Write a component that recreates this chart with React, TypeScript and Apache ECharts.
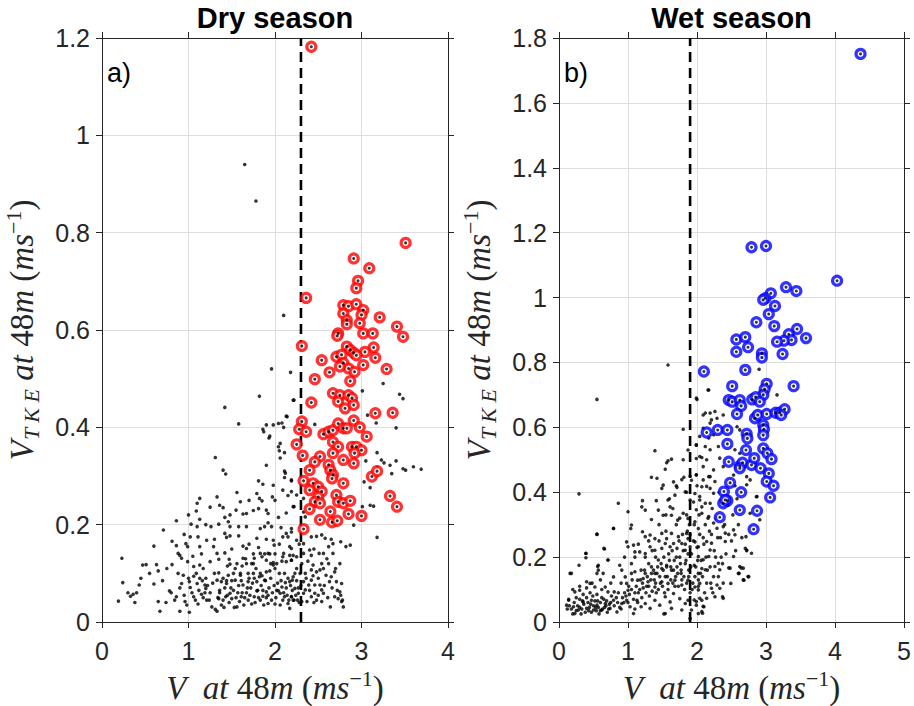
import React, { useEffect, useRef } from "react";
import * as echarts from "echarts";

// Wind speed at 48 m (m/s) vs. TKE velocity scale at 48 m (m/s)
const dryThreshold = 2.3;
const wetThreshold = 1.9;

const dryXTicks = { min: 0, max: 4, interval: 1 };
const dryYTicks = { min: 0, max: 1.2, interval: 0.2 };
const wetXTicks = { min: 0, max: 5, interval: 1 };
const wetYTicks = { min: 0, max: 1.8, interval: 0.2 };

const panelTitles = ["Dry season", "Wet season"];
const panelTags = ["a)", "b)"];

// Dry season: all samples
const dryDots: number[][] = [
  [1.65, 0.94], [1.78, 0.865], [2.1, 0.63], [1.96, 0.52], [2.18, 0.513], [1.82, 0.464], [2.22, 0.456],
  [2.14, 0.422], [2.04, 0.408], [1.42, 0.441], [1.58, 0.407], [1.86, 0.396], [1.9, 0.405], [1.98, 0.405],
  [1.94, 0.382], [2.08, 0.409], [2.13, 0.423], [2.06, 0.367], [2.05, 0.352], [2.11, 0.348], [1.9, 0.322],
  [2.11, 0.31], [2.11, 0.297], [2.19, 0.29], [1.98, 0.281], [2.09, 0.271], [2.19, 0.268], [1.97, 0.257],
  [2.21, 0.237], [2.13, 0.224], [1.31, 0.338], [1.4, 0.312], [1.43, 0.304], [1.81, 0.29], [1.86, 0.283],
  [1.79, 0.264], [1.82, 0.254], [1.85, 0.249], [1.56, 0.266], [1.6, 0.247], [1.13, 0.254], [1.1, 0.244],
  [1.09, 0.228], [1.13, 0.211], [1.25, 0.236], [1.33, 0.257], [1.36, 0.24], [1.4, 0.235], [1.48, 0.22],
  [1.42, 0.215], [1.67, 0.223], [1.63, 0.222], [1.75, 0.229], [1.9, 0.23], [1.92, 0.223], [1.81, 0.233],
  [2.04, 0.36], [2.06, 0.337], [1.93, 0.378], [1.87, 0.391], [2.1, 0.4], [2.12, 0.306],
  [0.86, 0.208], [1.03, 0.201], [1.1, 0.196], [1.26, 0.196], [1.35, 0.201], [1.46, 0.206], [1.48, 0.196],
  [1.58, 0.196], [1.67, 0.196], [1.83, 0.192], [1.88, 0.196], [1.92, 0.204], [1.96, 0.196], [2.04, 0.215],
  [2.07, 0.194], [2.13, 0.182], [2.19, 0.192], [2.15, 0.175], [0.71, 0.189], [0.6, 0.156], [0.81, 0.166],
  [0.86, 0.157], [0.97, 0.161], [0.99, 0.155], [1.02, 0.175], [1.11, 0.175], [1.13, 0.155], [1.21, 0.168],
  [1.29, 0.155], [1.33, 0.141], [1.42, 0.182], [1.44, 0.174], [1.48, 0.177], [1.58, 0.177], [1.63, 0.156],
  [1.67, 0.151], [1.79, 0.172], [1.81, 0.153], [1.83, 0.141], [1.92, 0.141], [1.98, 0.168], [1.99, 0.158],
  [2.09, 0.175], [2.1, 0.141], [2.17, 0.155], [2.21, 0.137], [0.23, 0.131], [0.47, 0.117], [0.51, 0.118],
  [0.63, 0.118], [0.65, 0.105], [0.75, 0.11], [0.81, 0.118], [0.9, 0.137], [0.92, 0.131], [0.88, 0.141],
  [0.99, 0.124], [1.05, 0.135], [1.06, 0.114], [1.13, 0.117], [1.17, 0.11], [1.25, 0.124], [1.35, 0.129],
  [1.42, 0.142], [1.47, 0.129], [1.48, 0.119], [1.54, 0.11], [1.63, 0.131], [1.67, 0.12], [1.75, 0.12],
  [1.76, 0.131], [1.85, 0.134], [1.9, 0.127], [1.94, 0.14], [1.95, 0.12], [1.98, 0.117], [2.02, 0.12],
  [2.09, 0.134], [2.13, 0.124], [2.19, 0.127], [2.25, 0.134], [0.24, 0.081], [0.43, 0.076], [0.6, 0.078],
  [0.78, 0.064], [0.92, 0.079], [0.94, 0.096], [1.01, 0.083], [1.02, 0.071], [1.06, 0.094], [1.1, 0.079],
  [1.13, 0.09], [1.19, 0.076], [1.2, 0.069], [1.33, 0.086], [1.35, 0.101], [1.38, 0.083], [1.44, 0.079],
  [1.46, 0.096], [1.52, 0.1], [1.54, 0.086], [1.6, 0.096], [1.63, 0.076], [1.69, 0.083], [1.75, 0.1],
  [1.79, 0.083], [1.82, 0.093], [1.88, 0.086], [1.9, 0.103], [1.98, 0.122], [2.08, 0.072], [2.12, 0.081],
  [2.17, 0.083], [2.21, 0.093], [2.29, 0.1], [0.19, 0.043], [0.33, 0.053], [0.36, 0.057], [0.4, 0.06],
  [0.38, 0.04], [0.65, 0.042], [0.67, 0.022], [0.74, 0.04], [0.86, 0.052], [0.9, 0.022], [0.96, 0.042],
  [0.98, 0.035], [1.01, 0.02], [1.06, 0.052], [1.11, 0.037], [1.15, 0.057], [1.19, 0.06], [1.21, 0.045],
  [1.27, 0.031], [1.31, 0.026], [1.33, 0.022], [1.35, 0.048], [1.36, 0.06], [1.4, 0.045], [1.43, 0.052],
  [1.48, 0.059], [1.5, 0.048], [1.56, 0.031], [1.59, 0.042], [1.61, 0.052], [1.67, 0.06], [1.69, 0.045],
  [1.73, 0.037], [1.76, 0.052], [1.79, 0.064], [1.83, 0.045], [1.86, 0.053], [1.9, 0.062], [1.92, 0.038],
  [1.96, 0.045], [2.0, 0.037], [2.04, 0.064], [2.06, 0.059], [2.09, 0.045], [2.11, 0.052], [2.15, 0.038],
  [2.17, 0.028], [2.19, 0.052], [2.22, 0.045], [1.34, 0.05], [1.38, 0.035], [1.42, 0.07], [1.45, 0.055],
  [1.47, 0.04], [1.52, 0.065], [1.55, 0.05], [1.58, 0.075], [1.62, 0.06], [1.64, 0.035], [1.68, 0.07],
  [1.71, 0.055], [1.74, 0.08], [1.77, 0.04], [1.8, 0.065], [1.84, 0.075], [1.87, 0.035], [1.9, 0.05],
  [1.93, 0.07], [1.97, 0.06], [2.01, 0.05], [2.03, 0.08], [2.06, 0.035], [2.1, 0.06], [2.13, 0.07],
  [2.16, 0.045], [2.2, 0.065], [2.24, 0.055], [2.27, 0.07], [2.28, 0.04], [1.25, 0.06], [1.22, 0.075],
  [1.17, 0.05], [1.12, 0.065], [1.08, 0.045], [1.04, 0.06], [0.95, 0.055], [0.9, 0.07], [0.84, 0.045],
  [0.8, 0.06], [1.4, 0.09], [1.5, 0.085], [1.6, 0.1], [1.7, 0.09], [1.78, 0.11], [1.85, 0.095],
  [1.95, 0.09], [2.05, 0.1], [2.15, 0.09], [2.25, 0.085], [1.3, 0.1], [1.2, 0.09], [1.56, 0.12],
  [1.66, 0.13], [1.73, 0.12], [1.88, 0.14], [2.0, 0.11], [2.08, 0.125], [1.45, 0.115], [1.62, 0.115],
  [2.21, 0.456], [3.25, 0.49], [3.44, 0.468], [3.48, 0.459], [3.01, 0.475], [3.07, 0.425], [3.17, 0.409],
  [3.4, 0.399], [2.46, 0.406], [2.19, 0.292], [2.25, 0.261], [2.22, 0.237], [2.33, 0.254], [2.33, 0.226],
  [2.35, 0.216], [3.18, 0.348], [3.23, 0.333], [3.33, 0.322], [3.4, 0.331], [3.48, 0.315], [3.51, 0.312],
  [3.35, 0.305], [3.26, 0.327], [3.18, 0.318], [3.05, 0.331], [3.1, 0.276], [3.03, 0.288], [3.1, 0.24],
  [3.14, 0.238], [3.01, 0.237], [3.18, 0.174], [3.6, 0.319], [3.69, 0.314], [2.91, 0.199],
  [2.19, 0.185], [2.25, 0.168], [2.19, 0.151], [2.17, 0.137], [2.19, 0.127], [2.25, 0.11], [2.2, 0.086],
  [2.23, 0.069], [2.27, 0.059], [2.19, 0.052], [2.21, 0.045], [2.33, 0.161], [2.33, 0.141], [2.31, 0.12],
  [2.35, 0.1], [2.33, 0.083], [2.33, 0.059], [2.37, 0.042], [2.31, 0.042], [2.35, 0.066], [2.42, 0.175],
  [2.48, 0.176], [2.54, 0.179], [2.58, 0.172], [2.62, 0.155], [2.67, 0.161], [2.76, 0.165], [2.82, 0.155],
  [2.87, 0.158], [2.4, 0.148], [2.42, 0.137], [2.51, 0.141], [2.56, 0.141], [2.67, 0.141], [2.62, 0.12],
  [2.54, 0.12], [2.44, 0.117], [2.42, 0.107], [2.48, 0.103], [2.52, 0.107], [2.56, 0.11], [2.69, 0.103],
  [2.59, 0.096], [2.65, 0.093], [2.63, 0.083], [2.71, 0.083], [2.77, 0.079], [2.42, 0.086], [2.39, 0.076],
  [2.46, 0.076], [2.52, 0.076], [2.54, 0.066], [2.46, 0.059], [2.42, 0.052], [2.56, 0.059], [2.69, 0.052],
  [2.75, 0.062], [2.77, 0.042], [2.73, 0.048], [2.79, 0.031], [2.64, 0.031], [2.54, 0.042], [2.48, 0.045],
  [1.36, 0.065], [1.41, 0.03], [1.44, 0.085], [1.49, 0.07], [1.53, 0.03], [1.57, 0.06], [1.61, 0.085],
  [1.65, 0.05], [1.69, 0.1], [1.72, 0.07], [1.76, 0.09], [1.81, 0.05], [1.83, 0.1], [1.86, 0.065],
  [1.89, 0.085], [1.92, 0.055], [1.94, 0.105], [1.99, 0.075], [2.02, 0.065], [2.07, 0.085], [2.11, 0.1],
  [2.14, 0.055], [2.18, 0.075], [2.23, 0.1], [2.26, 0.045], [2.3, 0.075], [2.36, 0.09], [2.4, 0.065],
  [2.44, 0.095], [2.5, 0.055], [2.57, 0.075], [2.61, 0.05], [2.66, 0.07], [2.72, 0.065], [2.76, 0.055],
  [2.78, 0.045], [1.28, 0.08], [1.24, 0.045], [1.16, 0.085], [1.09, 0.1], [1.0, 0.09], [0.88, 0.1],
  [0.7, 0.085], [0.55, 0.1], [0.45, 0.09], [0.3, 0.06], [1.15, 0.14], [1.3, 0.17], [1.5, 0.15],
  [1.7, 0.16], [1.9, 0.17], [2.05, 0.16], [1.2, 0.2], [1.55, 0.23], [1.7, 0.25], [2.0, 0.25],
  [2.15, 0.26], [1.0, 0.22], [0.95, 0.18], [1.75, 0.14], [2.0, 0.14], [2.28, 0.16], [2.45, 0.15],
  [2.6, 0.13], [2.7, 0.11], [2.5, 0.09], [2.65, 0.17], [2.75, 0.12], [2.38, 0.125], [2.45, 0.04],
];

// Dry season: highlighted samples
const dryCircles: number[][] = [
  [2.42, 1.182], [3.51, 0.779], [2.91, 0.747], [3.09, 0.727], [2.96, 0.701], [2.94, 0.686], [2.36, 0.666],
  [2.79, 0.651], [2.85, 0.649], [2.94, 0.653], [3.02, 0.641], [3.0, 0.631], [3.21, 0.626], [3.41, 0.607],
  [3.48, 0.586], [2.79, 0.634], [2.83, 0.62], [2.83, 0.612], [2.73, 0.593], [2.72, 0.588], [2.98, 0.614],
  [3.02, 0.593], [3.13, 0.593], [2.31, 0.567], [3.14, 0.564], [3.04, 0.555], [2.83, 0.566], [2.87, 0.559],
  [2.91, 0.553], [2.71, 0.545], [2.54, 0.538], [2.94, 0.548], [3.16, 0.543], [2.77, 0.549], [2.79, 0.532],
  [2.85, 0.521], [2.75, 0.525], [3.02, 0.528], [2.92, 0.514], [3.29, 0.52], [2.63, 0.513], [2.46, 0.499],
  [2.87, 0.495], [2.42, 0.451], [2.67, 0.47], [2.75, 0.466], [2.85, 0.466], [2.89, 0.46], [2.73, 0.453],
  [2.81, 0.439], [2.91, 0.446], [3.16, 0.429], [3.36, 0.43], [2.31, 0.412], [2.28, 0.396], [2.36, 0.391],
  [2.25, 0.365], [2.32, 0.342], [2.56, 0.386], [2.62, 0.391], [2.67, 0.394], [2.73, 0.408], [2.79, 0.398],
  [2.83, 0.398], [2.91, 0.414], [2.98, 0.4], [3.06, 0.381], [2.67, 0.37], [2.73, 0.36], [2.67, 0.347],
  [2.89, 0.36], [2.94, 0.36], [3.0, 0.353], [2.92, 0.347], [2.79, 0.333], [2.91, 0.326], [2.52, 0.34],
  [2.46, 0.329], [2.4, 0.312], [2.62, 0.323], [2.64, 0.312], [2.67, 0.302], [2.66, 0.295], [2.79, 0.285],
  [2.33, 0.29], [2.44, 0.285], [2.5, 0.278], [2.54, 0.268], [2.4, 0.271], [2.5, 0.257], [2.46, 0.247],
  [2.52, 0.244], [2.71, 0.261], [2.73, 0.247], [2.79, 0.244], [2.87, 0.249], [3.12, 0.299], [3.18, 0.31],
  [3.33, 0.259], [3.41, 0.237], [2.4, 0.232], [2.64, 0.227], [2.85, 0.222], [3.0, 0.218], [2.52, 0.21],
  [2.66, 0.205], [2.72, 0.208], [2.33, 0.191],
];

// Wet season: all samples
const wetDots: number[][] = [
  [1.58, 0.792], [0.55, 0.686], [2.16, 0.715], [2.0, 0.686], [2.9, 0.779], [3.16, 0.7], [2.86, 0.386],
  [0.29, 0.395], [0.86, 0.366], [1.0, 0.34], [1.39, 0.528], [1.63, 0.502], [1.58, 0.497], [1.81, 0.446],
  [2.09, 0.638], [1.8, 0.594], [1.87, 0.53], [1.99, 0.545], [2.07, 0.507], [1.99, 0.504], [1.56, 0.491],
  [1.54, 0.471], [1.34, 0.446], [1.42, 0.443], [1.92, 0.437], [1.78, 0.439], [1.66, 0.432], [1.71, 0.415],
  [1.51, 0.422], [1.49, 0.412], [1.21, 0.374], [1.2, 0.355], [1.41, 0.374], [1.58, 0.376], [1.61, 0.355],
  [1.68, 0.391], [1.83, 0.401], [1.9, 0.376], [1.97, 0.396], [2.04, 0.376], [2.07, 0.355], [1.25, 0.345],
  [1.34, 0.316], [1.44, 0.345], [1.51, 0.329], [1.63, 0.329], [1.72, 0.314], [1.8, 0.335], [1.87, 0.319],
  [1.97, 0.309], [2.02, 0.288], [1.05, 0.299], [1.04, 0.288], [0.79, 0.288], [0.55, 0.27], [0.66, 0.225],
  [0.39, 0.211], [0.39, 0.198], [0.71, 0.191], [0.98, 0.247], [1.0, 0.232], [1.08, 0.237], [1.21, 0.278],
  [1.25, 0.263], [1.32, 0.268], [1.39, 0.257], [1.49, 0.273], [1.56, 0.257], [1.63, 0.273], [1.73, 0.263],
  [1.78, 0.242], [1.85, 0.273], [1.87, 0.257], [1.97, 0.247], [2.02, 0.232], [1.1, 0.216], [1.17, 0.216],
  [1.25, 0.211], [1.32, 0.232], [1.39, 0.221], [1.49, 0.227], [1.54, 0.242], [1.61, 0.232], [1.66, 0.242],
  [1.71, 0.227], [1.83, 0.221], [1.9, 0.232], [0.16, 0.15], [0.29, 0.175], [0.57, 0.175], [0.57, 0.16],
  [0.55, 0.15], [0.64, 0.15], [0.79, 0.139], [0.88, 0.175], [0.91, 0.16], [0.96, 0.139], [1.05, 0.18],
  [1.1, 0.155], [1.19, 0.16], [1.25, 0.15], [1.3, 0.18], [1.34, 0.17], [1.39, 0.15], [1.44, 0.191],
  [1.49, 0.165], [1.56, 0.175], [1.63, 0.16], [1.71, 0.17], [1.77, 0.15], [1.83, 0.18], [1.88, 0.16],
  [1.96, 0.175], [2.02, 0.15], [2.07, 0.165], [0.4, 0.124], [0.45, 0.119], [0.3, 0.098], [0.23, 0.093],
  [0.52, 0.108], [0.67, 0.108], [0.71, 0.093], [0.8, 0.093], [0.98, 0.119], [1.0, 0.098], [1.14, 0.129],
  [1.22, 0.134], [1.29, 0.124], [1.39, 0.108], [1.49, 0.124], [1.58, 0.119], [1.68, 0.129], [1.78, 0.114],
  [1.87, 0.129], [1.97, 0.108], [2.04, 0.119], [0.14, 0.067], [0.11, 0.052], [0.21, 0.047], [0.28, 0.037],
  [0.23, 0.026], [0.35, 0.062], [0.4, 0.042], [0.47, 0.067], [0.5, 0.037], [0.55, 0.052], [0.62, 0.037],
  [0.67, 0.057], [0.74, 0.042], [0.79, 0.067], [0.84, 0.031], [0.91, 0.057], [0.98, 0.067], [1.03, 0.047],
  [1.08, 0.026], [1.13, 0.067], [1.19, 0.047], [1.25, 0.057], [1.32, 0.042], [1.39, 0.067], [1.46, 0.052],
  [1.54, 0.078], [1.61, 0.062], [1.66, 0.088], [1.75, 0.072], [1.83, 0.057], [1.87, 0.067], [1.92, 0.037],
  [1.99, 0.052], [2.07, 0.067], [1.63, 0.042], [1.54, 0.026], [1.78, 0.037], [2.02, 0.026], [1.9, 0.011],
  [0.15, 0.05], [0.18, 0.04], [0.22, 0.06], [0.25, 0.035], [0.27, 0.05], [0.3, 0.07], [0.33, 0.04],
  [0.36, 0.055], [0.38, 0.03], [0.42, 0.06], [0.44, 0.045], [0.47, 0.03], [0.5, 0.05], [0.52, 0.065],
  [0.54, 0.035], [0.57, 0.045], [0.6, 0.06], [0.58, 0.025], [0.63, 0.04], [0.65, 0.07], [0.68, 0.05],
  [0.7, 0.03], [0.73, 0.055], [0.76, 0.08], [0.45, 0.09], [0.35, 0.085], [0.25, 0.075], [0.55, 0.085],
  [0.62, 0.1], [0.3, 0.11], [0.2, 0.1], [0.48, 0.12], [0.4, 0.105], [0.14, 0.07], [0.12, 0.04],
  [0.2, 0.025], [0.85, 0.06], [0.88, 0.045], [0.92, 0.075], [0.95, 0.09], [1.0, 0.06], [1.02, 0.085],
  [1.05, 0.1], [1.08, 0.07], [1.1, 0.04], [1.12, 0.11], [1.15, 0.09], [1.18, 0.13], [1.2, 0.075],
  [1.22, 0.105], [1.26, 0.09], [1.28, 0.14], [1.3, 0.11], [1.33, 0.13], [1.35, 0.095], [1.37, 0.16],
  [1.4, 0.12], [1.42, 0.15], [1.44, 0.1], [1.46, 0.14], [1.48, 0.18], [1.5, 0.11], [1.52, 0.2],
  [1.54, 0.14], [1.56, 0.17], [1.58, 0.1], [1.6, 0.19], [1.62, 0.13], [1.64, 0.22], [1.66, 0.16],
  [1.68, 0.11], [1.7, 0.2], [1.72, 0.15], [1.74, 0.25], [1.76, 0.18], [1.78, 0.13], [1.8, 0.22],
  [1.82, 0.1], [1.84, 0.19], [1.86, 0.28], [1.88, 0.14], [1.9, 0.09], [1.92, 0.21], [1.94, 0.12],
  [1.96, 0.3], [1.98, 0.17], [2.0, 0.23], [2.02, 0.11], [2.04, 0.27], [2.06, 0.19], [2.08, 0.14],
  [2.1, 0.24], [2.12, 0.3], [2.15, 0.16], [2.18, 0.28], [2.2, 0.12], [2.22, 0.35], [2.25, 0.22],
  [2.28, 0.32], [2.3, 0.26], [2.32, 0.4], [2.35, 0.2], [2.4, 0.3], [2.45, 0.36], [2.5, 0.25],
  [2.55, 0.42], [2.6, 0.3], [1.25, 0.2], [1.3, 0.25], [1.35, 0.22], [1.45, 0.3], [1.55, 0.28],
  [1.65, 0.35], [1.75, 0.32], [1.85, 0.4], [1.95, 0.37], [2.0, 0.42], [1.9, 0.45], [1.8, 0.5],
  [1.7, 0.42], [1.6, 0.38], [1.99, 0.454], [2.09, 0.438], [2.19, 0.448], [2.14, 0.418], [2.24, 0.397],
  [2.04, 0.387], [2.12, 0.366], [2.19, 0.366], [1.99, 0.346], [2.07, 0.335], [2.17, 0.325], [2.24, 0.305],
  [2.29, 0.289], [2.38, 0.294], [2.41, 0.274], [2.53, 0.284], [2.55, 0.269], [2.72, 0.222], [2.79, 0.212],
  [2.41, 0.248], [2.21, 0.243], [2.14, 0.248], [2.19, 0.222], [2.09, 0.192], [2.02, 0.202], [2.17, 0.202],
  [2.26, 0.171], [2.33, 0.161], [2.31, 0.181], [2.48, 0.166], [2.62, 0.171], [2.67, 0.166], [2.6, 0.15],
  [2.74, 0.14], [2.67, 0.13], [2.12, 0.161], [2.02, 0.13], [2.14, 0.12], [2.24, 0.14], [2.38, 0.12],
  [2.33, 0.104], [2.21, 0.104], [2.02, 0.099], [2.14, 0.073], [2.04, 0.073], [2.38, 0.073], [2.26, 0.078],
  [2.09, 0.048], [1.99, 0.063], [2.07, 0.032], [2.48, 0.428], [2.77, 0.438], [2.87, 0.387], [2.91, 0.315],
  [2.77, 0.335], [2.53, 0.202], [2.7, 0.227], [2.17, 0.715], [1.99, 0.69], [2.12, 0.644], [2.19, 0.644],
  [2.26, 0.649], [2.38, 0.638], [2.21, 0.623], [2.29, 0.628], [2.19, 0.613], [2.09, 0.597], [2.58, 0.602],
  [2.62, 0.592], [2.04, 0.572], [2.17, 0.567], [2.24, 0.577], [1.99, 0.546], [2.12, 0.541], [2.19, 0.531],
  [2.31, 0.541], [2.55, 0.531], [2.62, 0.52], [2.04, 0.51], [2.14, 0.5], [2.33, 0.505], [2.09, 0.479],
  [2.24, 0.469], [2.38, 0.479], [1.99, 0.453], [2.17, 0.448], [2.26, 0.433], [2.53, 0.453], [2.72, 0.448],
  [2.07, 0.417], [2.19, 0.412], [2.72, 0.423], [2.91, 0.644], [2.87, 0.633], [2.71, 0.263], [2.72, 0.22],
  [2.75, 0.14], [2.68, 0.129], [2.64, 0.167], [2.61, 0.15], [2.46, 0.167], [2.49, 0.119], [2.37, 0.078],
  [2.29, 0.114], [2.1, 0.047], [2.08, 0.027], [1.52, 0.025], [1.96, 0.068], [0.18, 0.15], [0.39, 0.212],
  [0.56, 0.171], [0.65, 0.227], [0.55, 0.271], [0.79, 0.289], [0.71, 0.191],
  [0.3, 0.045], [0.32, 0.025], [0.34, 0.065], [0.4, 0.075], [0.43, 0.035], [0.46, 0.055], [0.49, 0.08],
  [0.53, 0.045], [0.56, 0.065], [0.6, 0.035], [0.62, 0.075], [0.66, 0.045], [0.69, 0.065], [0.72, 0.04],
  [0.75, 0.06], [0.8, 0.05], [0.83, 0.075], [0.86, 0.09], [0.9, 0.04], [0.94, 0.06], [0.97, 0.08],
  [1.01, 0.11], [1.06, 0.13], [1.1, 0.09], [1.14, 0.06], [1.17, 0.1], [1.21, 0.12], [1.24, 0.16],
  [1.27, 0.11], [1.31, 0.08], [1.34, 0.15], [1.38, 0.13], [1.41, 0.09], [1.43, 0.17], [1.47, 0.12],
  [1.51, 0.16], [1.53, 0.09], [1.57, 0.14], [1.59, 0.21], [1.62, 0.17], [1.65, 0.12], [1.67, 0.19],
  [1.69, 0.14], [1.73, 0.11], [1.75, 0.2], [1.77, 0.16], [1.79, 0.27], [1.81, 0.14], [1.83, 0.24],
  [1.85, 0.12], [1.87, 0.21], [1.89, 0.3], [1.91, 0.17], [1.93, 0.1], [1.95, 0.25], [1.97, 0.14],
  [2.01, 0.19], [2.03, 0.33], [2.05, 0.15], [2.09, 0.26], [2.11, 0.09], [2.13, 0.2], [2.16, 0.32],
  [2.19, 0.17], [2.21, 0.27], [2.23, 0.09], [2.27, 0.2], [2.31, 0.14], [2.34, 0.26], [2.37, 0.18],
  [2.42, 0.21], [2.46, 0.27], [2.52, 0.33], [2.56, 0.22], [2.58, 0.38], [2.65, 0.26], [1.1, 0.2],
  [1.15, 0.24], [1.4, 0.2], [1.45, 0.25], [1.55, 0.33], [1.7, 0.3], [1.85, 0.33], [1.9, 0.27],
  [0.9, 0.12], [0.75, 0.12], [0.6, 0.13], [0.95, 0.2], [1.05, 0.15],
];

// Wet season: highlighted samples
const wetCircles: number[][] = [
  [4.37, 1.751], [2.79, 1.155], [3.0, 1.159], [4.03, 1.052], [3.29, 1.032], [3.44, 1.02], [3.07, 1.013],
  [2.99, 0.998], [2.96, 0.993], [3.13, 0.974], [3.04, 0.949], [2.86, 0.924], [3.12, 0.912], [3.45, 0.903],
  [3.58, 0.875], [3.33, 0.887], [3.37, 0.869], [3.26, 0.867], [3.16, 0.864], [2.57, 0.871], [2.7, 0.878],
  [2.74, 0.847], [2.57, 0.833], [2.94, 0.828], [2.94, 0.815], [3.24, 0.826], [2.1, 0.772], [2.7, 0.777],
  [2.51, 0.727], [3.4, 0.727], [3.01, 0.734], [2.98, 0.717], [2.96, 0.7], [2.46, 0.684], [2.51, 0.679],
  [2.62, 0.684], [2.64, 0.666], [2.8, 0.686], [2.85, 0.693], [2.91, 0.679], [2.58, 0.641], [2.84, 0.628],
  [2.88, 0.638], [3.01, 0.641], [3.14, 0.645], [3.2, 0.645], [3.27, 0.656], [3.22, 0.638], [2.14, 0.584],
  [2.3, 0.592], [2.44, 0.592], [2.96, 0.607], [2.97, 0.594], [2.96, 0.576], [2.72, 0.58], [2.73, 0.566],
  [2.44, 0.549], [2.71, 0.53], [2.96, 0.535], [3.02, 0.52], [3.08, 0.502], [2.46, 0.494], [2.62, 0.481],
  [2.66, 0.491], [2.79, 0.484], [2.83, 0.505], [2.92, 0.474], [3.04, 0.458], [3.01, 0.433], [3.11, 0.42],
  [3.06, 0.384], [2.48, 0.429], [2.39, 0.402], [2.64, 0.4], [2.44, 0.374], [2.38, 0.366], [2.33, 0.323],
  [2.62, 0.345], [2.87, 0.343], [2.82, 0.286], [2.62, 0.474], [2.41, 0.376],
];

const INK = "#262626";
const GRID = "#dedede";
const TICK_FONT = "Liberation Sans, Arial, Helvetica, sans-serif";
const MATH_FONT = "Liberation Serif, Times New Roman, serif";

const mathRich = {
  i: { fontFamily: MATH_FONT, fontStyle: "italic", fontSize: 33, color: INK, lineHeight: 40 },
  r: { fontFamily: MATH_FONT, fontSize: 33, color: INK, lineHeight: 40 },
  sup: { fontFamily: MATH_FONT, fontSize: 22, color: INK, lineHeight: 20, verticalAlign: "top" },
  sub: { fontFamily: MATH_FONT, fontStyle: "italic", fontSize: 22, color: INK, lineHeight: 20, verticalAlign: "bottom" },
};

const xName = "{i|V}{r|  }{i|at}{r| 48}{i|m}{r| (}{i|ms}{sup|−1}{r|)}";
const yName = "{i|V}{sub|T K E}{r| }{i|at}{r| 48}{i|m}{r| (}{i|ms}{sup|−1}{r|)}";

const GRID_TOP = 38;
const GRID_BOTTOM = 84;
const panels = [
  { left: 102, right: 466 },
  { left: 559, right: 10 },
];

type Ticks = { min: number; max: number; interval: number };

const lineStyle = { color: INK, width: 1 };
const tickStyle = { show: true, inside: false, length: 6, lineStyle: { color: INK } };

function mainXAxis(gridIndex: number, ticks: Ticks) {
  return {
    type: "value",
    gridIndex,
    position: "bottom",
    ...ticks,
    name: xName,
    nameLocation: "middle",
    nameGap: 45,
    nameTextStyle: { rich: mathRich },
    axisLine: { show: true, onZero: false, lineStyle },
    axisTick: tickStyle,
    axisLabel: { color: INK, fontSize: 25, fontFamily: TICK_FONT, margin: 16 },
    splitLine: { show: true, lineStyle: { color: GRID, width: 1 } },
  };
}

function mainYAxis(gridIndex: number, ticks: Ticks) {
  return {
    type: "value",
    gridIndex,
    position: "left",
    ...ticks,
    name: yName,
    nameLocation: "middle",
    nameRotate: 90,
    nameGap: 60,
    nameTextStyle: { rich: mathRich },
    axisLine: { show: true, onZero: false, lineStyle },
    axisTick: tickStyle,
    axisLabel: { color: INK, fontSize: 25, fontFamily: TICK_FONT, margin: 12 },
    splitLine: { show: true, lineStyle: { color: GRID, width: 1 } },
  };
}

// Mirror axes close the box with outward ticks on the top and right edges
function mirrorXAxis(gridIndex: number, ticks: Ticks) {
  return {
    type: "value",
    gridIndex,
    position: "top",
    ...ticks,
    axisLine: { show: true, onZero: false, lineStyle },
    axisTick: tickStyle,
    axisLabel: { show: false },
    splitLine: { show: false },
  };
}

function mirrorYAxis(gridIndex: number, ticks: Ticks) {
  return {
    type: "value",
    gridIndex,
    position: "right",
    ...ticks,
    axisLine: { show: true, onZero: false, lineStyle },
    axisTick: tickStyle,
    axisLabel: { show: false },
    splitLine: { show: false },
  };
}

function panelSeries(
  axisIndex: number,
  dots: number[][],
  circles: number[][],
  threshold: number,
  yMax: number,
  ringColor: string
) {
  return [
    {
      type: "scatter",
      xAxisIndex: axisIndex,
      yAxisIndex: axisIndex,
      data: dots,
      symbol: "circle",
      symbolSize: 3.6,
      itemStyle: { color: "#000" },
      silent: true,
      z: 2,
    },
    {
      type: "line",
      xAxisIndex: axisIndex,
      yAxisIndex: axisIndex,
      data: [
        [threshold, 0],
        [threshold, yMax],
      ],
      symbol: "none",
      lineStyle: { color: "#000", width: 2.6, type: [10, 6] },
      silent: true,
      z: 3,
    },
    {
      type: "scatter",
      xAxisIndex: axisIndex,
      yAxisIndex: axisIndex,
      data: circles,
      symbol: "circle",
      symbolSize: 9,
      itemStyle: { color: "#ffffff", borderColor: ringColor, borderWidth: 3.2 },
      silent: true,
      z: 4,
    },
    {
      type: "scatter",
      xAxisIndex: axisIndex,
      yAxisIndex: axisIndex,
      data: circles,
      symbol: "circle",
      symbolSize: 3,
      itemStyle: { color: "#000" },
      silent: true,
      z: 5,
    },
  ];
}

export default function App() {
  const ref = useRef<HTMLDivElement>(null);

  useEffect(() => {
    if (!ref.current) return;
    const chart = echarts.init(ref.current, undefined, { renderer: "svg" });

    const centers = panels.map((p) => p.left + (914 - p.left - p.right) / 2);

    chart.setOption({
      animation: false,
      backgroundColor: "#ffffff",
      grid: panels.map((p) => ({
        left: p.left,
        right: p.right,
        top: GRID_TOP,
        bottom: GRID_BOTTOM,
        outerBoundsMode: "none",
        containLabel: false,
      })),
      xAxis: [
        mainXAxis(0, dryXTicks),
        mainXAxis(1, wetXTicks),
        mirrorXAxis(0, dryXTicks),
        mirrorXAxis(1, wetXTicks),
      ],
      yAxis: [
        mainYAxis(0, dryYTicks),
        mainYAxis(1, wetYTicks),
        mirrorYAxis(0, dryYTicks),
        mirrorYAxis(1, wetYTicks),
      ],
      series: [
        ...panelSeries(0, dryDots, dryCircles, dryThreshold, dryYTicks.max, "#ff0000"),
        ...panelSeries(1, wetDots, wetCircles, wetThreshold, wetYTicks.max, "#0000ff"),
      ],
      graphic: [
        ...panelTitles.map((t, i) => ({
          type: "text",
          x: centers[i],
          y: 18,
          style: {
            text: t,
            fontFamily: TICK_FONT,
            fontWeight: "bold",
            fontSize: 29,
            fill: "#000",
            textAlign: "center",
            textVerticalAlign: "middle",
          },
        })),
        ...panelTags.map((t, i) => ({
          type: "text",
          x: panels[i].left + 5,
          y: 73,
          style: {
            text: t,
            fontFamily: TICK_FONT,
            fontSize: 27,
            fill: "#000",
            textAlign: "left",
            textVerticalAlign: "middle",
          },
        })),
      ],
    });

    return () => chart.dispose();
  }, []);

  return <div ref={ref} style={{ width: 914, height: 706, position: "absolute", left: 0, top: 0 }} />;
}
